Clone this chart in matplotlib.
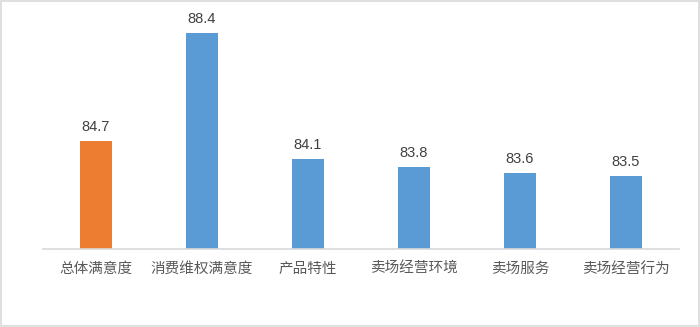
import matplotlib.pyplot as plt
from matplotlib.patches import Rectangle

plt.rcParams['font.family'] = ['Noto Sans CJK SC', 'DejaVu Sans']

categories = ["总体满意度", "消费维权满意度", "产品特性", "卖场经营环境", "卖场服务", "卖场经营行为"]
values = [84.7, 88.4, 84.1, 83.8, 83.6, 83.5]
colors = ["#ED7D31", "#5B9BD5", "#5B9BD5", "#5B9BD5", "#5B9BD5", "#5B9BD5"]

fig = plt.figure(figsize=(7, 3.27), dpi=100)
ax = fig.add_axes([0.0614, 0.2376, 0.9086, 0.7244])

x = range(len(categories))
bars = ax.bar(x, values, width=0.31, color=colors, bottom=0)
ax.set_ylim(81, 89.1)
ax.set_xlim(-0.5, len(categories) - 0.5)

for b, v in zip(bars, values):
    ax.annotate(f"{v:.1f}", (b.get_x() + b.get_width() / 2, v),
                xytext=(0, 5), textcoords="offset points",
                ha="center", va="bottom", fontsize=10.5, color="#404040",
                family=["Liberation Sans", "DejaVu Sans"])

ax.set_xticks(list(x))
ax.set_xticklabels(categories, fontsize=10.5, color="#595959")
ax.tick_params(axis="x", length=0, pad=9)
ax.set_yticks([])
for side in ["top", "right", "left"]:
    ax.spines[side].set_visible(False)
ax.spines["bottom"].set_color("#D9D9D9")
ax.spines["bottom"].set_linewidth(1.2)

# light frame around the whole chart
fig.patches.append(Rectangle((0.002, 0.004), 0.996, 0.992, transform=fig.transFigure,
                             fill=False, edgecolor="#D9D9D9", linewidth=1.2))

fig.savefig("out.png", dpi=100)
